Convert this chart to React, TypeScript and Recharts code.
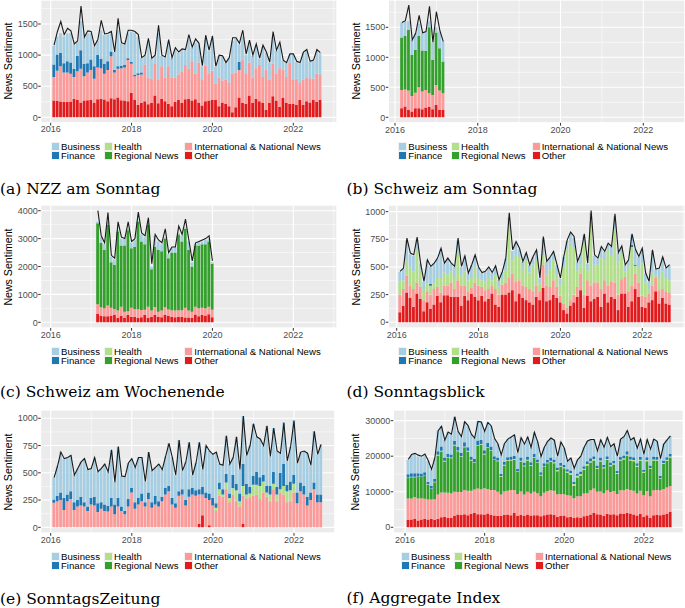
import React from "react";
import { ComposedChart, Bar, Line, XAxis, YAxis, CartesianGrid } from "recharts";

// ---------- series meta ----------
const SERIES = [
  { key: "other", name: "Other", color: "#E31A1C" },
  { key: "intl", name: "International & National News", color: "#FB9A99" },
  { key: "regional", name: "Regional News", color: "#33A02C" },
  { key: "health", name: "Health", color: "#B2DF8A" },
  { key: "finance", name: "Finance", color: "#1F78B4" },
  { key: "business", name: "Business", color: "#A6CEE3" },
];
const LEGEND_COLUMNS = [["business", "finance"], ["health", "regional"], ["intl", "other"]];
const YEAR_TICKS = [2016, 2018, 2020, 2022];
const YEAR_MINOR = [2017, 2019, 2021, 2023];

// month sequence (decimal years, month starts)
function monthAxis(startYear: number, startMonth: number, count: number): number[] {
  const out: number[] = [];
  for (let i = 0; i < count; i++) {
    const k = startMonth - 1 + i;
    out.push(startYear + Math.floor(k / 12) + (k % 12) / 12);
  }
  return out;
}

// ---------- (a) NZZ am Sonntag : Feb 2016 - Sep 2022 ----------
const aMonths = monthAxis(2016, 2, 80);
const aOther = [270,265,255,250,250,255,295,280,240,270,275, 280,230,290,300,285,260,305,290,320,275,270,260, 390,280,200,230,260,210,230,350,225,300,260,220, 180,250,280,230,290,300,270,290,240,190,260,270, 280,280,180,240,220,180,80,160,320,230,220,350, 230,300,260,230,120,230,340,270,170,310,230,220, 220,200,280,200,260,240,280,250,280];
const aIntl = [380,485,565,470,470,445,355,460,540,390,445, 480,390,510,490,415,500,675,430,460,515,530,660, 470,380,480,460,590,430,390,520,375,520,380,600, 460,390,410,500,550,480,620,410,640,410,570,430, 470,260,460,350,390,380,620,560,440,700,490,530, 410,490,580,420,650,380,520,430,620,450,420,660, 380,420,270,410,380,390,340,450,400];
const aFinance = [200,260,220,150,180,180,130,250,300,200,150, 170,200,200,150,160,140,80,40,40,40,40,30, 30,20,30,30,0,0,0,0,0,0,0,0, 0,0,0,0,0,0,0,0,0,0,0,0, 0,0,0,0,0,0,0,0,130,0,0,0, 0,0,0,0,0,0,0,0,0,0,0,0, 0,0,0,0,0,0,0,0,0];
const aBusiness = [300,290,310,430,450,470,390,230,470,420,480, 420,320,230,460,460,430,290,290,580,360,330,400, 490,680,590,230,140,560,320,120,750,170,320,380, 310,460,350,350,240,470,230,500,290,220,420,370, 500,270,350,390,260,390,530,540,280,370,300,320, 350,360,100,480,270,270,440,370,390,150,220,130, 410,270,320,430,430,260,290,370,350];
const aIndex = [1160,1380,1540,1330,1430,1390,1180,1230,1790,1290,1390, 1380,1150,1250,1560,1340,1350,1380,1050,1590,1200,1180,1400, 1400,1380,1330,960,1000,1270,950,1000,1480,1000,970,1250, 960,1120,1050,1100,1090,1330,1130,1260,1190,830,1320,1080, 1310,820,1000,990,880,960,1280,1280,1190,1400,1020,1240, 1000,1180,950,1160,1050,890,1380,1080,1210,920,880,1020, 1020,900,880,1050,1090,900,920,1090,1040];

// ---------- (b) Schweiz am Sonntag : Mar 2016 - Mar 2017 ----------
const bMonths = monthAxis(2016, 3, 13);
const bOther = [150,180,120,95,150,150,135,165,170,135,205,120,120];
const bIntl = [305,285,325,260,260,350,295,290,230,235,335,325,280];
const bRegional = [875,890,1010,685,710,855,682,655,1100,585,875,705,530];
const bBusiness = [250,245,145,250,280,205,300,310,100,295,85,280,330];
const bIndex = [1580,1610,1870,1290,1400,1700,1410,1430,1850,1250,1760,1450,1260];

// ---------- (c) Schweiz am Wochenende : Mar 2017 - Jan 2020 ----------
const cMonths = monthAxis(2017, 3, 35);
const cOther = [300,230,220,220,230,260,160,230,150,260,200,200,150,180,260,150,200,260,200,180,260,230,200,180,200,200,170,170,150,280,220,260,240,290,180];
const cIntl = [350,310,280,380,290,220,260,330,230,140,320,280,320,260,190,410,220,290,180,240,280,230,230,240,230,230,350,250,230,280,280,260,260,270,270];
const cRegional = [2900,2310,2100,2900,1630,1570,2830,2190,2370,2900,2130,2220,3130,2460,2350,2940,1480,2150,2220,2130,2460,1840,2070,2080,2720,2470,2830,2180,1620,2190,2250,2280,2300,2340,1650];
const cBusiness = [50,200,200,100,200,200,50,250,250,50,200,250,50,250,250,50,100,400,300,250,50,150,150,180,50,200,50,300,150,70,120,100,150,100,50];
const cIndex = [4000,3100,2850,3930,2400,2300,3600,3050,3000,3600,2900,3000,3950,3200,3100,3750,2100,3150,2950,2850,3350,2500,2700,2700,3450,3150,3700,2950,2200,2850,2900,2950,3000,3100,2200];

// ---------- (d) Sonntagsblick : Feb 2016 - Sep 2022 ----------
const dMonths = monthAxis(2016, 2, 80);
const dOther = [90,150,270,220,140,260,210,100,180,120,160, 240,180,245,245,230,230,230,150,240,200,255,230, 200,240,190,210,260,160,140,250,250,270,290,190, 260,220,200,180,160,230,200,310,190,200,250,220, 180,110,80,150,180,230,290,130,240,190,210,230, 140,260,180,230,210,110,260,260,140,190,300,230, 140,130,180,200,280,170,220,170,160];
const dIntl = [160,150,150,110,160,100,110,100,100,130,140, 80,90,85,85,130,70,150,180,90,80,55,130, 130,80,100,90,70,140,110,90,110,130,150,180, 120,110,120,120,120,100,80,210,140,120,130,100, 60,60,50,50,70,90,150,120,140,140,150,130, 160,120,150,140,150,140,130,150,140,140,140,130, 100,100,80,130,120,120,80,110,110];
const dHealth = [120,80,140,170,160,290,160,100,70,80,50, 80,130,120,100,100,100,240,90,130,100,90,140, 70,60,80,100,50,120,70,50,110,470,120,230, 210,150,240,150,240,230,70,80,100,160,180,110, 90,330,530,520,430,150,80,470,90,620,160,160, 280,180,320,230,480,300,230,50,220,350,70,140, 290,130,40,120,20,110,160,120,110];
const dFinance = [0,0,0,0,0,0,0,0,0,15,0, 0,0,0,0,0,0,0,0,0,0,0,0, 0,0,0,0,0,0,0,0,0,0,0,0, 0,0,0,0,0,0,0,0,0,0,0,0, 0,0,0,0,0,0,0,0,0,0,0,0, 0,0,0,0,0,0,0,0,0,20,10,0, 0,0,0,0,0,0,0,0,0];
const dBusiness = [85,105,180,115,140,100,50,65,205,155,180, 175,260,80,145,70,100,120,80,135,60,115,100, 95,65,85,95,65,85,60,65,105,80,85,120, 70,65,60,65,70,85,45,160,115,105,70,85, 65,90,75,80,85,75,100,70,60,40,80,55, 95,75,55,80,120,75,60,55,60,90,135,90, 130,80,65,195,55,85,125,85,135];
const dIndex = [460,490,760,625,610,770,535,370,565,505,535, 580,670,535,580,535,505,760,505,600,445,520,610, 500,450,460,500,450,510,385,460,580,990,655,730, 670,550,630,520,595,655,400,775,550,590,640,520, 400,595,745,815,775,550,625,800,535,1010,610,580, 685,640,715,685,980,630,690,520,565,800,660,595, 670,445,370,655,480,490,590,490,520];

// ---------- (e) SonntagsZeitung : Feb 2016 - Sep 2022 ----------
const eMonths = monthAxis(2016, 2, 80);
const eOther = [0,0,0,0,0,0,0,0,0,0,0, 0,0,0,0,0,0,0,0,0,0,0,0, 0,0,0,0,0,0,0,0,0,0,0,0, 0,0,0,0,0,0,0,0,30,110,0,20, 0,0,0,0,0,0,0,0,0,30,0,0, 0,0,0,0,0,0,0,0,0,0,0,0, 0,0,0,0,0,0,0,0,0];
const eIntl = [225,240,250,160,240,260,160,190,200,190,150, 210,200,140,170,150,145,190,120,190,150,120,190, 320,170,210,240,190,260,180,210,190,240,300,330, 210,180,290,300,200,280,300,290,270,190,270,230, 200,150,290,280,350,230,300,240,190,260,260,270, 290,300,260,320,280,240,350,240,320,300,230,240, 320,220,330,300,200,250,350,230,230];
const eHealth = [0,0,0,0,0,0,0,0,0,0,0, 0,0,0,0,0,0,0,0,0,0,0,0, 0,0,0,0,0,0,0,0,0,0,0,0, 0,0,0,0,0,0,0,0,0,0,0,0, 0,30,60,20,60,40,60,100,50,90,40,40, 100,90,120,100,40,60,50,60,30,80,100,100, 80,0,0,0,0,0,0,0,0];
const eFinance = [30,50,70,110,60,70,70,60,80,40,40, 60,80,80,60,60,50,80,90,80,40,30,70, 40,60,60,70,40,60,50,80,50,40,60,50, 60,40,40,50,50,70,60,50,50,70,50,60, 70,40,60,50,80,40,120,60,70,200,100,60, 80,120,80,60,60,80,110,70,150,200,60,80, 80,100,80,80,80,70,60,70,70];
const eBusiness = [200,270,370,360,340,330,250,290,320,400,340, 270,360,290,310,370,315,440,205,470,280,315,330, 270,320,370,330,190,370,290,260,340,250,290,390, 370,260,470,170,350,430,120,250,430,160,430,390, 400,470,170,220,350,270,160,430,220,440,260,380, 480,320,350,270,550,270,400,330,180,380,220,320, 500,270,280,320,400,250,470,370,460];
const eIndex = [455,560,690,630,640,660,480,540,600,630,530, 540,640,510,540,580,510,710,415,740,470,465,590, 630,550,640,640,420,690,520,550,580,530,650,770, 640,480,800,520,600,780,480,590,780,530,750,700, 670,690,580,570,840,580,640,830,530,1020,660,750, 950,830,810,750,930,650,910,700,680,960,610,740, 980,590,690,700,680,570,880,670,760];

// ---------- (f) Aggregate Index : Feb 2016 - Sep 2022 ----------
const fMonths = monthAxis(2016, 2, 80);
const fOther = [2100,2200,2300,1900,2200,2300,2200,2300,2100,2400,2800, 2900,2600,2700,3200,3600,3500,3700,3400,3800,4000,3700,3700, 3600,3900,3500,3300,3200,3200,3500,3600,3400,4000,3200,3500, 3200,3600,3300,3400,3400,3100,3400,3600,3700,3500,2900,3200, 3300,2800,2900,2600,2800,2700,3100,3300,3600,4000,3700,3600, 3200,3800,3600,3700,3400,3900,3800,4000,3900,3600,3300,3800, 2900,3400,2700,3400,3500,3400,3600,3800,4300];
const fIntl = [6000,5900,6200,6200,6000,5700,5600,5500,5800,6800,7000, 6900,7100,6900,6800,6300,6400,6800,6900,6500,6600,7200,7000, 7400,6900,7000,7200,6800,6000,6600,6700,7100,6500,6200,6600, 6000,6400,6200,6600,6200,5600,6300,6600,6700,6800,6400,6200, 6000,6200,6000,5600,5900,6000,6400,6300,6800,6900,6300,6500, 6400,6600,6300,6500,6000,6500,6600,6800,6600,6700,6200,6500, 6100,6800,6000,7000,7000,7000,7200,7400,7300];
const fRegional = [5800,6000,5600,6100,6000,6500,4200,3000,4800,11000,11500, 8700,9800,9800,13000,11500,9900,12000,11000,8500,7500,12000,12500, 9500,11500,11000,8400,8600,5000,7300,8400,8300,8500,6200,8400, 8000,8800,7800,9600,8500,5900,7300,7800,8000,7700,6500,7600, 7300,6300,5900,3400,5300,5800,6600,7800,7800,7900,6400,8400, 7000,8500,7300,7500,5600,8300,8700,9400,8300,8300,7500,8400, 6300,8400,7700,8400,8200,3300,7000,7500,8000];
const fHealth = [100,100,100,100,100,100,100,100,100,200,200, 200,200,200,200,200,200,200,200,200,200,200,200, 200,200,200,200,200,200,200,200,200,200,200,200, 200,200,200,200,200,200,200,200,300,300,300,300, 300,400,500,600,500,500,400,400,400,400,300,300, 300,300,300,300,300,300,300,300,300,300,300,300, 300,300,300,300,300,200,300,300,300];
const fFinance = [900,1000,1000,900,800,900,700,700,800,1000,1200, 900,1000,900,1100,1000,1000,1200,1000,900,900,1300,1200, 1000,1200,1000,900,800,600,800,800,900,900,700,900, 800,900,800,900,800,700,800,800,900,800,700,800, 700,600,700,600,600,700,700,800,800,800,700,800, 700,800,700,700,600,800,800,900,800,800,700,800, 600,800,700,800,800,600,700,700,800];
const fBusiness = [4000,5100,5300,4800,4600,4800,5800,4500,5700,5800,5700, 4900,6100,5700,6800,4400,4500,5800,6100,6300,5900,5400,5000, 5300,5800,5800,5000,3900,5400,5200,5100,5500,5900,4500,5600, 5200,5500,4200,6000,4900,4400,4500,5200,5500,5400,3200,5900, 4700,2300,3500,3800,3900,4300,5300,5700,5300,4700,4100,5000, 4900,5300,4500,4800,4100,5000,5300,5800,4700,5500,4300,5000, 4400,5000,4600,4900,4400,4800,4600,4900,5000];
const fIndex = [19100,20500,20800,20300,20000,20600,18800,16300,19500,27200,28400, 24500,26800,26200,31100,27000,25500,29700,28600,26200,25100,29800,29600, 27000,29500,28500,25000,23500,20400,23600,24800,25400,26000,21000,25200, 23400,25400,22500,26700,24000,19900,22500,24200,25100,24500,20000,24000, 22300,18600,19500,16600,19000,20000,22500,24300,24700,24700,21500,24600, 22500,25300,22700,23500,20000,24800,25500,27200,24600,25200,22300,24800, 20600,24700,22000,24800,24200,19300,23400,24600,25700];

type Panel = {
  id: string;
  caption: string;
  months: number[];
  series: Record<string, number[] | undefined>;
  index: number[];
  box: { x: number; y: number; w: number; h: number };
  plot: { left: number; right: number; top: number; bottom: number };
  xDomain: [number, number];
  yDomain: [number, number];
  yTicks: number[];
  yMinor: number[];
  titleX: number;
  legendCols: number[];
  captionX: number;
  captionY: number;
};

const PANELS: Panel[] = [
  {
    id: "a", caption: "(a) NZZ am Sonntag", months: aMonths,
    series: { other: aOther, intl: aIntl, finance: aFinance, business: aBusiness }, index: aIndex,
    box: { x: 0, y: 0, w: 340, h: 140 }, plot: { left: 40.7, right: 337, top: 0, bottom: 122.8 },
    xDomain: [2015.753, 2023.08], yDomain: [-88, 1886], yTicks: [0, 500, 1000, 1500], yMinor: [250, 750, 1250, 1750],
    titleX: 8, legendCols: [51, 104, 184.3], captionX: 0, captionY: 189,
  },
  {
    id: "b", caption: "(b) Schweiz am Sonntag", months: bMonths,
    series: { other: bOther, intl: bIntl, regional: bRegional, business: bBusiness }, index: bIndex,
    box: { x: 340, y: 0, w: 345, h: 140 }, plot: { left: 388.3, right: 685, top: 0, bottom: 122.9 },
    xDomain: [2015.838, 2023.008], yDomain: [-93, 1955], yTicks: [0, 500, 1000, 1500], yMinor: [250, 750, 1250, 1750],
    titleX: 356, legendCols: [398.3, 451, 531.7], captionX: 346.5, captionY: 189,
  },
  {
    id: "c", caption: "(c) Schweiz am Wochenende", months: cMonths,
    series: { other: cOther, intl: cIntl, regional: cRegional, business: cBusiness }, index: cIndex,
    box: { x: 0, y: 200, w: 340, h: 145 }, plot: { left: 40.7, right: 337, top: 205, bottom: 328 },
    xDomain: [2015.753, 2023.08], yDomain: [-204, 4204], yTicks: [0, 1000, 2000, 3000, 4000], yMinor: [500, 1500, 2500, 3500],
    titleX: 8, legendCols: [51, 104, 184.3], captionX: 0, captionY: 392,
  },
  {
    id: "d", caption: "(d) Sonntagsblick", months: dMonths,
    series: { other: dOther, intl: dIntl, health: dHealth, finance: dFinance, business: dBusiness }, index: dIndex,
    box: { x: 340, y: 200, w: 345, h: 145 }, plot: { left: 388.3, right: 685, top: 205, bottom: 328 },
    xDomain: [2015.795, 2023.044], yDomain: [-52, 1060], yTicks: [0, 250, 500, 750, 1000], yMinor: [125, 375, 625, 875],
    titleX: 356, legendCols: [398.3, 451, 531.7], captionX: 346.5, captionY: 392,
  },
  {
    id: "e", caption: "(e) SonntagsZeitung", months: eMonths,
    series: { other: eOther, intl: eIntl, health: eHealth, finance: eFinance, business: eBusiness }, index: eIndex,
    box: { x: 0, y: 400, w: 340, h: 150 }, plot: { left: 40.7, right: 335, top: 410, bottom: 533 },
    xDomain: [2015.753, 2023.011], yDomain: [-52, 1076], yTicks: [0, 250, 500, 750, 1000], yMinor: [125, 375, 625, 875],
    titleX: 7.5, legendCols: [51, 104, 184.3], captionX: 0, captionY: 599,
  },
  {
    id: "f", caption: "(f) Aggregate Index", months: fMonths,
    series: { other: fOther, intl: fIntl, regional: fRegional, health: fHealth, finance: fFinance, business: fBusiness }, index: fIndex,
    box: { x: 340, y: 400, w: 345, h: 150 }, plot: { left: 393.3, right: 683.3, top: 410, bottom: 533 },
    xDomain: [2015.706, 2022.99], yDomain: [-1603, 32996], yTicks: [0, 10000, 20000, 30000], yMinor: [5000, 15000, 25000],
    titleX: 355, legendCols: [401, 454, 535], captionX: 346.5, captionY: 598,
  },
];

const SANS = "'Liberation Sans', Arial, Helvetica, sans-serif";

function PanelChart({ p }: { p: Panel }) {
  const data = p.months.map((x, i) => {
    const row: Record<string, number> = { x, index: p.index[i] };
    SERIES.forEach((s) => {
      const arr = p.series[s.key];
      row[s.key] = arr ? arr[i] : 0;
    });
    return row;
  });
  const xMinor = YEAR_MINOR.filter((v) => v > p.xDomain[0] && v < p.xDomain[1]);
  const margin = {
    top: p.plot.top - p.box.y,
    right: p.box.x + p.box.w - p.plot.right,
    bottom: 0,
    left: 0,
  };
  const xAxisHeight = p.box.y + p.box.h - p.plot.bottom;
  const yAxisWidth = p.plot.left - p.box.x;
  const tickStyle = { fontSize: 9, fill: "#4D4D4D", fontFamily: SANS };
  return (
    <div style={{ position: "absolute", left: p.box.x, top: p.box.y }}>
      <ComposedChart width={p.box.w} height={p.box.h} data={data} margin={margin}>
        <XAxis xAxisId="minor" dataKey="x" type="number" domain={p.xDomain} ticks={xMinor} allowDataOverflow hide />
        <YAxis yAxisId="minor" type="number" domain={p.yDomain} ticks={p.yMinor} allowDataOverflow hide />
        <XAxis
          dataKey="x" type="number" domain={p.xDomain} ticks={YEAR_TICKS} allowDataOverflow interval={0}
          height={xAxisHeight} tickSize={2.75} tickMargin={0.5} axisLine={false}
          tickLine={{ stroke: "#333333", strokeWidth: 1 }} tick={tickStyle}
        />
        <YAxis
          type="number" domain={p.yDomain} ticks={p.yTicks} allowDataOverflow interval={0}
          width={yAxisWidth} tickSize={2.5} tickMargin={0.5} axisLine={false}
          tickLine={{ stroke: "#333333", strokeWidth: 1 }} tick={tickStyle}
        />
        <CartesianGrid xAxisId="minor" yAxisId="minor" fill="#EBEBEB" stroke="#FFFFFF" strokeWidth={0.55} />
        <CartesianGrid stroke="#FFFFFF" strokeWidth={1.1} />
        {SERIES.map((s) => (
          <Bar key={s.key} dataKey={s.key} stackId="s" fill={s.color} barSize={2.8} isAnimationActive={false} />
        ))}
        <Line dataKey="index" type="linear" stroke="#1A1A1A" strokeWidth={1.1} dot={false} activeDot={false} isAnimationActive={false} />
      </ComposedChart>
    </div>
  );
}

function PanelDecor({ p }: { p: Panel }) {
  const cy = (p.plot.top + p.plot.bottom) / 2;
  const legendTop = p.plot.bottom + 18.8;
  const byKey: Record<string, { name: string; color: string }> = {};
  SERIES.forEach((s) => (byKey[s.key] = s));
  return (
    <>
      <div
        style={{
          position: "absolute", left: p.titleX, top: cy, transform: "translate(-50%, -50%) rotate(-90deg)",
          fontSize: 10.6, fontFamily: SANS, color: "#000", whiteSpace: "nowrap", lineHeight: "11px",
        }}
      >
        News Sentiment
      </div>
      {LEGEND_COLUMNS.map((col, ci) => (
        <React.Fragment key={p.id + "col" + ci}>
          {col.map((k, ri) => (
            <div
              key={p.id + k}
              style={{
                position: "absolute", left: p.legendCols[ci], top: legendTop + ri * 9, width: 9, height: 9,
                background: byKey[k].color, boxSizing: "border-box", border: "0.5px solid #F2F2F2",
              }}
            />
          ))}
          <div
            style={{
              position: "absolute", left: p.legendCols[ci] + 10, top: legendTop, height: 18,
              fontSize: 9.6, lineHeight: "9px", fontFamily: SANS, color: "#000", whiteSpace: "pre",
            }}
          >
            {byKey[col[0]].name + "\n" + byKey[col[1]].name}
          </div>
        </React.Fragment>
      ))}
      <div
        style={{
          position: "absolute", left: p.captionX, top: p.captionY - 9.5, fontSize: 15.5, lineHeight: "19px",
          fontFamily: "'DejaVu Serif', serif", color: "#000", whiteSpace: "nowrap",
        }}
      >
        {p.caption}
      </div>
    </>
  );
}

export default function App() {
  return (
    <div style={{ position: "relative", width: 685, height: 608, overflow: "hidden", background: "#fff" }}>
      <style>{"body{margin:0;}"}</style>
      {PANELS.map((p) => (
        <React.Fragment key={p.id}>
          <PanelChart p={p} />
          <PanelDecor p={p} />
        </React.Fragment>
      ))}
    </div>
  );
}
